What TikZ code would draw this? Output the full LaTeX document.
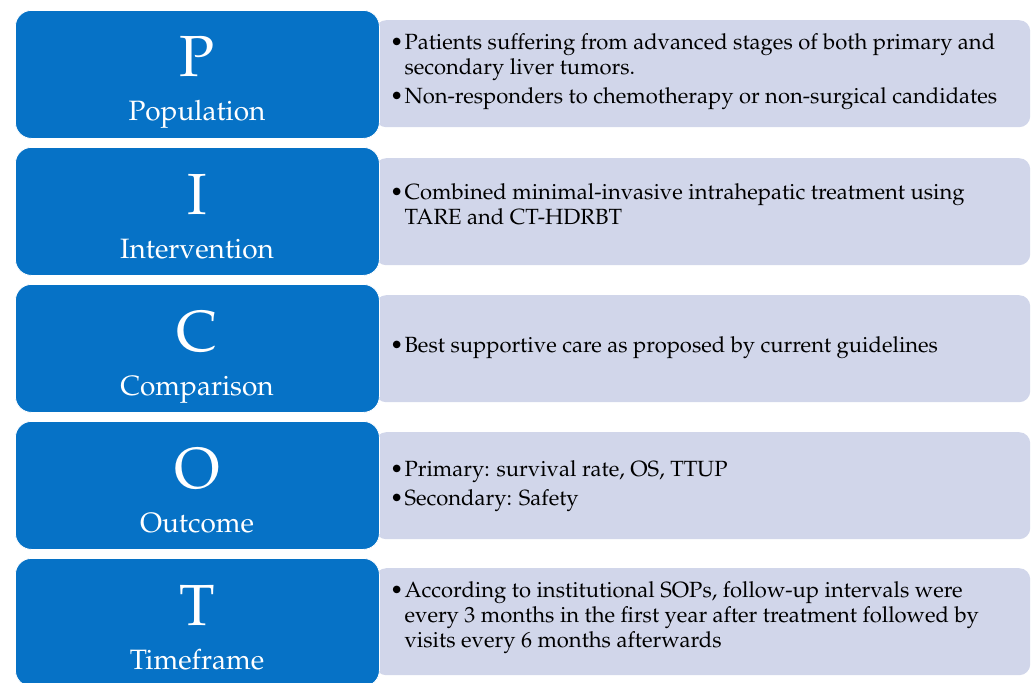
\documentclass[tikz,border=0pt]{standalone}
\usepackage[T1]{fontenc}
\usepackage{mathpazo}
\usepackage{xcolor}
\usepackage{tikz}
\usetikzlibrary{positioning}

\definecolor{picoblue}{RGB}{6,114,198}
\definecolor{picogrey}{RGB}{209,214,234}
\newcommand{\picobul}{\textbullet\kern1pt}
\newcommand{\picoind}{\hphantom{\textbullet\kern1pt}}

\begin{document}
\begin{tikzpicture}[x=1pt,y=-1pt,
    bluebox/.style={fill=picoblue, draw=white, line width=0.8pt, rounded corners=16pt, minimum width=364pt, minimum height=128pt, anchor=north west, inner sep=0pt},
    greybox/.style={fill=picogrey, rounded corners=11pt, minimum width=655pt, minimum height=107pt, anchor=north west, inner sep=0pt},
    letter/.style={text=white, font=\fontsize{58}{58}\selectfont, anchor=base},
    word/.style={text=white, font=\fontsize{28}{28}\selectfont, anchor=base},
    items/.style={font=\fontsize{22}{25}\selectfont, align=left, anchor=west, inner sep=0pt}]
    \useasboundingbox (0,0) rectangle (1035,682);

    % P - population
    \begin{scope}
        \node[greybox] (popinfo) at (375,20) {};
        \node[bluebox] (popbox) at (15,10) {};
        \node[letter] (popletter) at (197,77) {P};
        \node[word] (popword) at (197,121) {Population};
        \node[items] (poptext) at (390,72) {\picobul Patients suffering from advanced stages of both primary and\\ \picoind secondary liver tumors.\\[4pt] \picobul Non-responders to chemotherapy or non-surgical candidates};
    \end{scope}

    % I - intervention
    \begin{scope}[yshift=-137pt]
        \node[greybox] (intinfo) at (375,21) {};
        \node[bluebox] (intbox) at (15,10) {};
        \node[letter] (intletter) at (197,77) {I};
        \node[word] (intword) at (197,121) {Intervention};
        \node[items] (inttext) at (390,67) {\picobul Combined minimal-invasive intrahepatic treatment using\\ \picoind TARE and CT-HDRBT};
    \end{scope}

    % C - comparison
    \begin{scope}[yshift=-274pt]
        \node[greybox] (cominfo) at (375,21) {};
        \node[bluebox] (combox) at (15,10) {};
        \node[letter] (comletter) at (197,77) {C};
        \node[word] (comword) at (197,121) {Comparison};
        \node[items] (comtext) at (390,74) {\picobul Best supportive care as proposed by current guidelines};
    \end{scope}

    % O - outcome
    \begin{scope}[yshift=-411pt]
        \node[greybox] (outinfo) at (375,21) {};
        \node[bluebox] (outbox) at (15,10) {};
        \node[letter] (outletter) at (197,77) {O};
        \node[word] (outword) at (197,121) {Outcome};
        \node[items] (outtext) at (390,75) {\picobul Primary: survival rate, OS, TTUP\\[4pt] \picobul Secondary: Safety};
    \end{scope}

    % T - timeframe
    \begin{scope}[yshift=-548pt]
        \node[greybox] (timinfo) at (375,20) {};
        \node[bluebox] (timbox) at (15,10) {};
        \node[letter] (timletter) at (197,77) {T};
        \node[word] (timword) at (197,121) {Timeframe};
        \node[items] (timtext) at (390,70) {\picobul According to institutional SOPs, follow-up intervals were\\ \picoind every 3 months in the first year after treatment followed by\\ \picoind visits every 6 months afterwards};
    \end{scope}
\end{tikzpicture}
\end{document}
